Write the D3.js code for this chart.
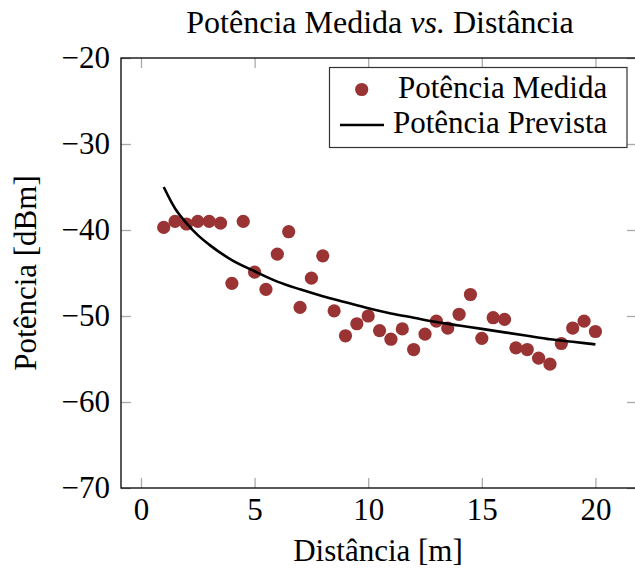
<!DOCTYPE html>
<html>
<head>
<meta charset="utf-8">
<script src="https://cdn.jsdelivr.net/npm/d3@7"></script>
<style>
  body { margin: 0; background: #fff; }
  text { font-family: "Liberation Serif", "Times New Roman", serif; fill: #000; }
</style>
</head>
<body>
<div id="container"></div>
<script>

// Measured power (dBm) at each distance (m).
const distances = [1, 1.5, 2, 2.5, 3, 3.5, 4, 4.5, 5, 5.5, 6, 6.5, 7, 7.5, 8, 8.5, 9, 9.5, 10,
  10.5, 11, 11.5, 12, 12.5, 13, 13.5, 14, 14.5, 15, 15.5, 16, 16.5, 17, 17.5, 18, 18.5, 19, 19.5, 20];
const measured = [-39.7, -39.0, -39.3, -39.0, -39.0, -39.2, -46.2, -39.0, -44.9, -46.9, -42.8, -40.2, -49.0, -45.6, -43.0, -49.4, -52.3, -50.9, -50.0,
  -51.7, -52.7, -51.5, -53.9, -52.1, -50.6, -51.4, -49.8, -47.5, -52.6, -50.2, -50.4, -53.7, -53.9, -54.9, -55.6, -53.2, -51.4, -50.6, -51.8];

// Predicted curve.
const predDist = [1, 1.5, 2, 2.5, 3, 4, 5, 6, 7, 8, 9, 10, 11, 12, 13, 14, 15, 16, 17, 18, 19, 20];
const predicted = [-35.0, -37.5, -39.2, -40.6, -41.7, -43.5, -44.8, -46.0, -46.9, -47.7, -48.4, -49.1,
  -49.7, -50.2, -50.7, -51.1, -51.5, -51.9, -52.3, -52.7, -53.0, -53.3];

const xTicks = [0, 5, 10, 15, 20];
const yTicks = [-70, -60, -50, -40, -30, -20];

const seriesNames = ["Potência Medida", "Potência Prevista"];

const width = 635;
const height = 568;

const marginTop = 58;
const marginBottom = 80;
const marginLeft = 121;

const fontSize = 31;
const dotColor = "#9a3333";
const tickColor = "#aaa";

const x = d3.scaleLinear()
    .domain([-0.88, 21.83])
    .range([marginLeft, 637]);

const y = d3.scaleLinear()
    .domain([-70, -20])
    .range([height - marginBottom, marginTop]);

const svg = d3.create("svg")
    .attr("width", width)
    .attr("height", height);

container.append(svg.node());

// Ticks on all four sides, pointing inward.
const gBottom = svg.append("g")
    .attr("transform", `translate(0,${y(-70)})`)
    .call(d3.axisBottom(x).tickValues(xTicks).tickSize(-10).tickSizeOuter(0).tickPadding(10).tickFormat(d3.format("d")));

const gTop = svg.append("g")
    .attr("transform", `translate(0,${y(-20)})`)
    .call(d3.axisTop(x).tickValues(xTicks).tickSize(-10).tickSizeOuter(0).tickFormat(""));

const gLeft = svg.append("g")
    .attr("transform", `translate(${marginLeft},0)`)
    .call(d3.axisLeft(y).tickValues(yTicks).tickSize(-10).tickSizeOuter(0).tickPadding(11).tickFormat(d3.format("d")));

const gRight = svg.append("g")
    .attr("transform", `translate(${x(21.83)},0)`)
    .call(d3.axisRight(y).tickValues(yTicks).tickSize(-10).tickSizeOuter(0).tickFormat(""));

for (const g of [gBottom, gTop, gLeft, gRight]) {
  g.select(".domain").remove();
  g.selectAll(".tick line").attr("stroke", tickColor).attr("stroke-width", 1.3);
  g.selectAll(".tick text")
    .attr("font-size", fontSize)
    .attr("font-family", "Liberation Serif")
    .attr("fill", "#000");
}

// Frame
svg.append("rect")
    .attr("x", x(-0.88))
    .attr("y", y(-20))
    .attr("width", x(21.83) - x(-0.88))
    .attr("height", y(-70) - y(-20))
    .attr("fill", "none")
    .attr("stroke", "#000")
    .attr("stroke-width", 1.3);

// Measured points
svg.append("g")
  .selectAll("circle")
  .data(distances)
  .join("circle")
    .attr("cx", d => x(d))
    .attr("cy", (d, i) => y(measured[i]))
    .attr("r", 6.6)
    .attr("fill", dotColor);

// Predicted line
const line = d3.line()
    .x(d => x(d[0]))
    .y(d => y(d[1]))
    .curve(d3.curveMonotoneX);

svg.append("path")
    .datum(predDist.map((d, i) => [d, predicted[i]]))
    .attr("d", line)
    .attr("fill", "none")
    .attr("stroke", "#000")
    .attr("stroke-width", 2.6);

// Title
svg.append("text")
    .attr("x", 380)
    .attr("y", 32.7)
    .attr("text-anchor", "middle")
    .attr("font-size", 32)
    .call(t => {
      t.append("tspan").text("Potência Medida ");
      t.append("tspan").attr("font-style", "italic").text("vs.");
      t.append("tspan").text(" Distância");
    });

// X axis label
svg.append("text")
    .attr("x", 378)
    .attr("y", 561)
    .attr("text-anchor", "middle")
    .attr("font-size", fontSize)
    .text("Distância [m]");

// Y axis label
svg.append("text")
    .attr("transform", `translate(36,${y(-45)}) rotate(-90)`)
    .attr("text-anchor", "middle")
    .attr("font-size", fontSize)
    .text("Potência [dBm]");

// Legend (by hand)
svg.append("rect")
    .attr("x", 329.5)
    .attr("y", 67.5)
    .attr("width", 297.5)
    .attr("height", 80)
    .attr("fill", "#fff")
    .attr("stroke", "#333")
    .attr("stroke-width", 1.2);

svg.append("circle")
    .attr("cx", 361.7)
    .attr("cy", 89.5)
    .attr("r", 6.6)
    .attr("fill", dotColor);

svg.append("text")
    .attr("x", 398)
    .attr("y", 98)
    .attr("font-size", fontSize)
    .text(seriesNames[0]);

svg.append("line")
    .attr("x1", 340)
    .attr("x2", 384)
    .attr("y1", 125)
    .attr("y2", 125)
    .attr("stroke", "#000")
    .attr("stroke-width", 2.6);

svg.append("text")
    .attr("x", 393)
    .attr("y", 133)
    .attr("font-size", fontSize)
    .text(seriesNames[1]);

</script>
</body>
</html>
